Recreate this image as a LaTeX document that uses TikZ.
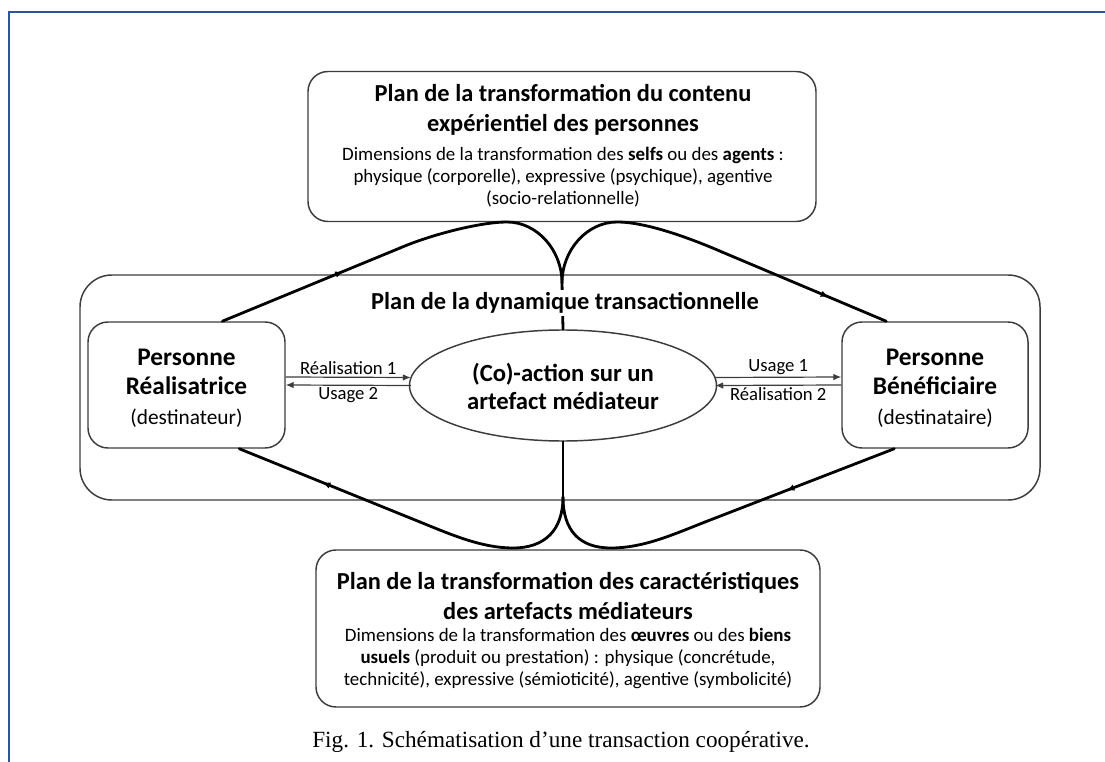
\documentclass[tikz,border=0pt]{standalone}
\usepackage{fontspec}
\setmainfont{Carlito}
\newfontfamily\capfont{Liberation Serif}
\usetikzlibrary{arrows.meta,decorations.markings,shapes.geometric,calc}
\definecolor{frameblue}{RGB}{47,85,151}
\definecolor{boxgray}{RGB}{60,60,60}
\begin{document}
\begin{tikzpicture}[x=0.75pt,y=-0.75pt,
  box/.style={draw=boxgray,line width=1.1pt,rounded corners=15pt,inner sep=0pt},
  thickline/.style={line width=2.1pt,line cap=round,line join=round},
  midarrow/.style={thickline,postaction={decorate},decoration={markings,mark=at position #1 with {\arrow{Latex[length=6pt,width=5pt]}}}},
  harrow/.style={draw=boxgray,line width=0.9pt,-{Latex[length=6pt,width=5pt]}},
  ttl/.style={font=\bfseries\fontsize{18.3}{22}\selectfont,align=center,inner sep=1pt},
  body/.style={font=\fontsize{14.2}{16.5}\selectfont,align=center,inner sep=1pt},
  lbl/.style={font=\fontsize{14}{16}\selectfont,inner sep=1.5pt}
]
\path[use as bounding box] (0,0) rectangle (1105,762);
% blue frame
\draw[frameblue,line width=1.6pt] (9,770) -- (9,12) -- (1115,12);

% boxes
\node[box,rounded corners=24pt,minimum width=720pt,minimum height=168.75pt] (mid) at (560,387.5) {};
\node[box,minimum width=381pt,minimum height=112.5pt] (top) at (562,146.5) {};
\node[box,minimum width=378pt,minimum height=117.75pt] (bot) at (568,628.5) {};
\node[box,minimum width=147.75pt,minimum height=94.5pt] (lbox) at (186.5,385) {};
\node[box,minimum width=139.5pt,minimum height=94.5pt] (rbox) at (935,385) {};
\node[ellipse,draw=boxgray,line width=1.1pt,minimum width=230.25pt,minimum height=83.25pt,inner sep=0pt] (ell) at (563,385.5) {};

% texts in boxes
\node[ttl] (toptitle) at (563,110) {Plan de la transformation du contenu\\expérientiel des personnes};
\node[body] (topbody) at (563,177) {Dimensions de la transformation des \textbf{selfs} ou des \textbf{agents} :\\physique (corporelle), expressive (psychique), agentive\\(socio-relationnelle)};
\node[ttl] (bottitle) at (568,596) {Plan de la transformation des caractéristiques\\des artefacts médiateurs};
\node[body] (botbody) at (568,658) {Dimensions de la transformation des \textbf{œuvres} ou des \textbf{biens}\\\textbf{usuels} (produit ou prestation) : physique (concrétude,\\technicité), expressive (sémioticité), agentive (symbolicité)};
\node[align=center,font=\bfseries\fontsize{19}{22}\selectfont] (ltxt) at ($(lbox)+(0,3)$) {Personne\\Réalisatrice\\{\mdseries\fontsize{16}{22}\selectfont (destinateur)}};
\node[align=center,font=\bfseries\fontsize{19}{22}\selectfont] (rtxt) at ($(rbox)+(0,3)$) {Personne\\Bénéficiaire\\{\mdseries\fontsize{16}{22}\selectfont (destinataire)}};
\node[align=center,font=\bfseries\fontsize{18.5}{21}\selectfont] (etxt) at ($(ell)+(0,1)$) {(Co)-action sur un\\artefact médiateur};

% horizontal arrows
\draw[harrow] ($(lbox.east)+(0,-8)$) -- node[lbl,above] (r1) {Réalisation 1} ($(ell.west)+(2,-8)$);
\draw[harrow] ($(ell.west)+(2,0)$) -- node[lbl,below] (u2) {Usage 2} ($(lbox.east)+(0,0)$);
\draw[harrow] ($(ell.east)+(-2,-8)$) -- node[lbl,above] (u1) {Usage 1} ($(rbox.west)+(0,-8)$);
\draw[harrow] ($(rbox.west)+(0,0)$) -- node[lbl,below] (r2) {Réalisation 2} ($(ell.east)+(-2,0)$);

% curve waypoints
\coordinate (cT) at (562,283);
\coordinate (cB) at (563,497);
\coordinate (tlA) at ($(lbox.north west)+(135,0)$);
\coordinate (tlB) at (400,248);
\coordinate (tlP) at (507,222);
\coordinate (trA) at ($(rbox.north west)+(45,0)$);
\coordinate (trB) at (722,252);
\coordinate (trP) at (617,222);
\coordinate (blA) at ($(lbox.south west)+(152,0)$);
\coordinate (blB) at (420,522);
\coordinate (blP) at (513,548);
\coordinate (brA) at ($(rbox.south west)+(53,0)$);
\coordinate (brB) at (705,522);
\coordinate (brP) at (611,548);

% vertical links through the middle title
\draw[thickline] (cT) -- (ell.north);
\draw[thickline] (ell.south) -- (cB);

% top curves
\draw[midarrow=0.68] (tlA) -- (tlB);
\draw[thickline] (tlB) .. controls (430,235) and (480,222) .. (tlP) .. controls (537,222) and (562,250) .. (cT);
\draw[thickline] (cT) .. controls (562,250) and (587,222) .. (trP) .. controls (647,222) and (692,239) .. (trB);
\draw[midarrow=0.65] (trB) -- (trA);
% bottom curves
\draw[midarrow=0.54] (blB) -- (blA);
\draw[thickline] (blB) .. controls (452,535) and (482,548) .. (blP) .. controls (545,548) and (563,530) .. (cB);
\draw[thickline] (cB) .. controls (563,530) and (579,548) .. (brP) .. controls (643,548) and (672,535) .. (brB);
\draw[midarrow=0.57] (brA) -- (brB);

% middle title (covers the vertical link)
\node[ttl,fill=white,inner sep=2pt] (midtitle) at (565,303) {Plan de la dynamique transactionnelle};

% caption
\node[font=\capfont\fontsize{17.4}{20}\selectfont] (cap) at (561,742) {Fig. 1. Schématisation d’une transaction coopérative.};
\end{tikzpicture}
\end{document}
